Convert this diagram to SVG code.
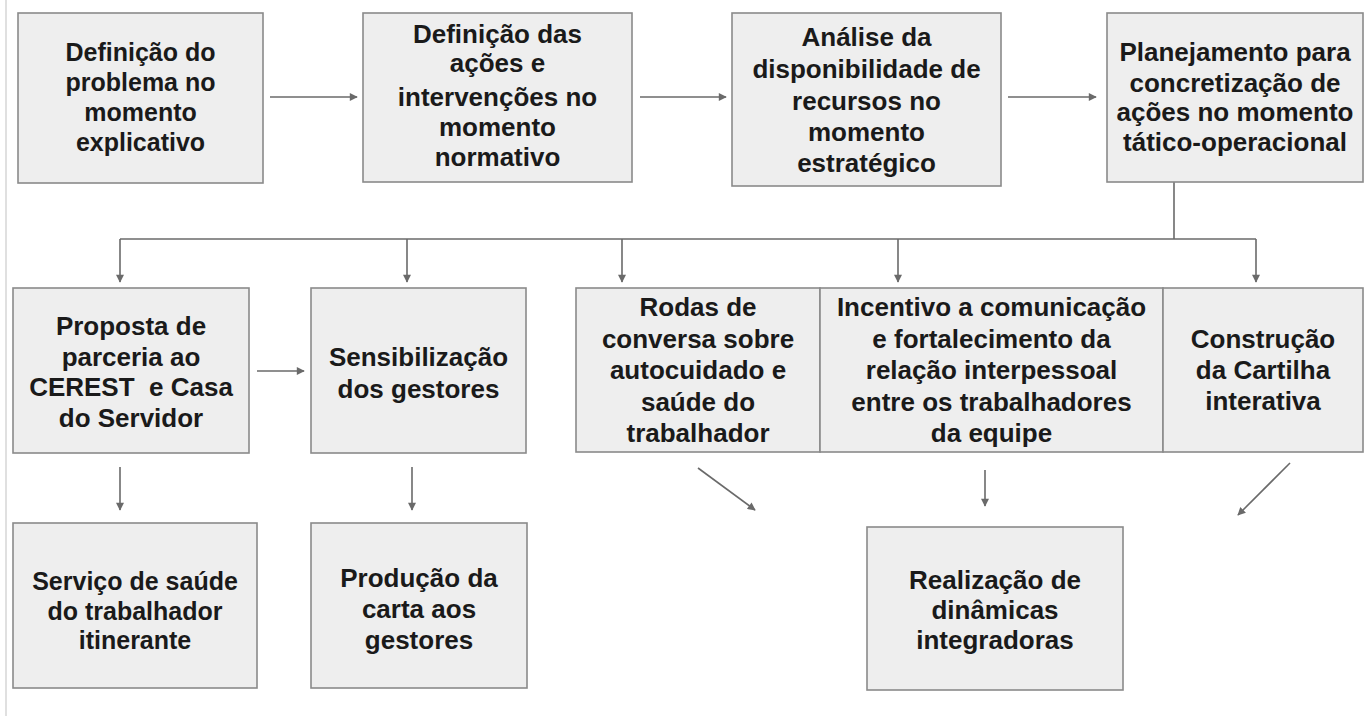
<svg xmlns="http://www.w3.org/2000/svg" width="1368" height="716" viewBox="0 0 1368 716">
<style>
.box{fill:#eeeeee;stroke:#8a8a8a;stroke-width:1.6}
.t{font-family:'Liberation Sans',Arimo,Arial,Helvetica,sans-serif;font-weight:700;font-size:26px;fill:#1a1a1a;text-anchor:middle}
.s25{font-size:25px}
.c{stroke:#6a6a6a;stroke-width:1.6;fill:none}
.a{stroke:#6a6a6a;stroke-width:1.6;fill:none;marker-end:url(#ah)}
</style>
<defs>
<marker id="ah" viewBox="0 0 10 10" refX="9" refY="5" markerWidth="9" markerHeight="8" markerUnits="userSpaceOnUse" orient="auto"><path d="M0,0 L10,5 L0,10 z" fill="#6a6a6a"/></marker>
</defs>
<rect width="1368" height="716" fill="#ffffff"/>
<line x1="6" y1="0" x2="6" y2="716" stroke="#d6d6d6" stroke-width="1.5"/>

<g id="connectors">
<line class="a" x1="270" y1="97" x2="357" y2="97"/>
<line class="a" x1="640" y1="97" x2="726" y2="97"/>
<line class="a" x1="1008" y1="97" x2="1096" y2="97"/>
<polyline class="c" points="1174,182 1174,239"/>
<line class="c" x1="120" y1="239" x2="1256" y2="239"/>
<line class="a" x1="120" y1="239" x2="120" y2="282"/>
<line class="a" x1="407" y1="239" x2="407" y2="282"/>
<line class="a" x1="622" y1="239" x2="622" y2="282"/>
<line class="a" x1="898" y1="239" x2="898" y2="282"/>
<line class="a" x1="1256" y1="239" x2="1256" y2="282"/>
<line class="a" x1="257" y1="371" x2="304" y2="371"/>
<line class="a" x1="120" y1="467" x2="120" y2="510"/>
<line class="a" x1="412" y1="467" x2="412" y2="510"/>
<line class="a" x1="698" y1="468" x2="755" y2="510"/>
<line class="a" x1="985" y1="470" x2="985" y2="506"/>
<line class="a" x1="1290" y1="463" x2="1238" y2="515"/>
</g>

<g id="n1"><rect class="box" x="18" y="13" width="245" height="170"/>
<text class="t s25"><tspan x="140.5" y="61">Definição do</tspan><tspan x="140.5" y="91">problema no</tspan><tspan x="140.5" y="121">momento</tspan><tspan x="140.5" y="151">explicativo</tspan></text></g>

<g id="n2"><rect class="box" x="363" y="13" width="269" height="169"/>
<text class="t"><tspan x="497.5" y="43">Definição das</tspan><tspan x="497.5" y="72">ações e</tspan><tspan x="497.5" y="106">intervenções no</tspan><tspan x="497.5" y="136">momento</tspan><tspan x="497.5" y="166">normativo</tspan></text></g>

<g id="n3"><rect class="box" x="732" y="13" width="269" height="173"/>
<text class="t"><tspan x="866.5" y="46">Análise da</tspan><tspan x="866.5" y="78">disponibilidade de</tspan><tspan x="866.5" y="110">recursos no</tspan><tspan x="866.5" y="141">momento</tspan><tspan x="866.5" y="172">estratégico</tspan></text></g>

<g id="n4"><rect class="box" x="1107" y="13" width="256" height="169"/>
<text class="t"><tspan x="1235" y="61">Planejamento para</tspan><tspan x="1235" y="92">concretização de</tspan><tspan x="1235" y="121">ações no momento</tspan><tspan x="1235" y="151">tático-operacional</tspan></text></g>

<g id="n5"><rect class="box" x="13" y="288" width="236" height="165"/>
<text class="t" xml:space="preserve"><tspan x="131" y="335">Proposta de</tspan><tspan x="131" y="366">parceria ao</tspan><tspan x="131" y="396">CEREST  e Casa</tspan><tspan x="131" y="427">do Servidor</tspan></text></g>

<g id="n6"><rect class="box" x="311" y="288" width="215" height="165"/>
<text class="t"><tspan x="418.5" y="366">Sensibilização</tspan><tspan x="418.5" y="398">dos gestores</tspan></text></g>

<g id="n7"><rect class="box" x="576" y="288" width="244" height="164"/>
<text class="t"><tspan x="698" y="316">Rodas de</tspan><tspan x="698" y="348">conversa sobre</tspan><tspan x="698" y="379">autocuidado e</tspan><tspan x="698" y="411">saúde do</tspan><tspan x="698" y="442">trabalhador</tspan></text></g>

<g id="n8"><rect class="box" x="820" y="288" width="343" height="164"/>
<text class="t"><tspan x="991.5" y="316">Incentivo a comunicação</tspan><tspan x="991.5" y="348">e fortalecimento da</tspan><tspan x="991.5" y="379">relação interpessoal</tspan><tspan x="991.5" y="411">entre os trabalhadores</tspan><tspan x="991.5" y="442">da equipe</tspan></text></g>

<g id="n9"><rect class="box" x="1163" y="288" width="200" height="164"/>
<text class="t"><tspan x="1263" y="348">Construção</tspan><tspan x="1263" y="379">da Cartilha</tspan><tspan x="1263" y="410">interativa</tspan></text></g>

<g id="n10"><rect class="box" x="13" y="523" width="244" height="165"/>
<text class="t s25"><tspan x="135" y="590">Serviço de saúde</tspan><tspan x="135" y="620">do trabalhador</tspan><tspan x="135" y="649">itinerante</tspan></text></g>

<g id="n11"><rect class="box" x="311" y="523" width="216" height="165"/>
<text class="t"><tspan x="419" y="587">Produção da</tspan><tspan x="419" y="618">carta aos</tspan><tspan x="419" y="649">gestores</tspan></text></g>

<g id="n12"><rect class="box" x="867" y="527" width="256" height="163"/>
<text class="t"><tspan x="995" y="589">Realização de</tspan><tspan x="995" y="619">dinâmicas</tspan><tspan x="995" y="649">integradoras</tspan></text></g>
</svg>
